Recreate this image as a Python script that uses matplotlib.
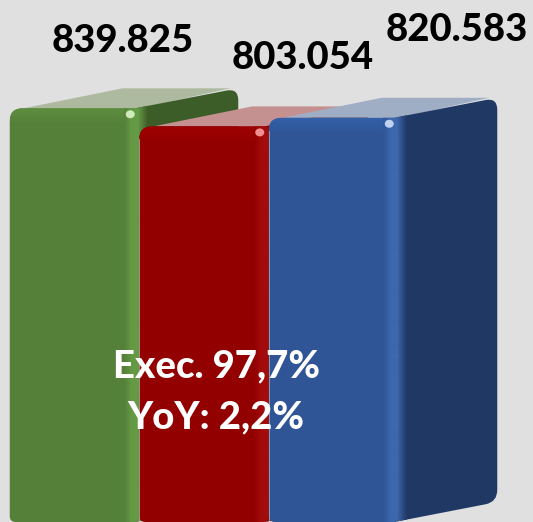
import numpy as np
import matplotlib
matplotlib.use("Agg")
import matplotlib.pyplot as plt
from matplotlib.patches import PathPatch, Ellipse
from matplotlib.path import Path
from matplotlib.colors import LinearSegmentedColormap

# Data
values = [839.825, 803.054, 820.583]
value_labels = ["839.825", "803.054", "820.583"]
note_lines = ["Exec. 97,7%", "YoY: 2,2%"]

# Colours per bar
front_colors = ["#55803a", "#930000", "#2f5597"]
glow_colors = ["#5f8f40", "#a00000", "#3360a8"]
bevel_colors = ["#659a45", "#a30c0c", "#3d68ad"]
side_colors = ["#3c5c28", "#6e0000", "#203864"]
top_colors = ["#adbaa0", "#c59090", "#a0aec5"]
spec_colors = ["#e4fad0", "#ffa8a8", "#d8e6ff"]

# Label offsets from bar centre / top, in pixels
label_dx = [48, 99, 123]
label_dy = [67, 68, 88]

PX_W, PX_H = 533, 522
BAR_PX = 129.5
X0_PX = 74.5
UNITS_PER_PX = 2.03
DEPTH_X = 99
DEPTH_Y = 20
FONT_SIZE = 27.5

fig = plt.figure(figsize=(PX_W / 100, PX_H / 100), dpi=100, facecolor="#e0e0e0")
ax = fig.add_axes([0, 0, 1, 1])
ax.set_facecolor("#e0e0e0")
xlim = (-X0_PX / BAR_PX, (PX_W - X0_PX) / BAR_PX)
ylim = (0, PX_H * UNITS_PER_PX)

sx = 1 / BAR_PX
sy = UNITS_PER_PX


def rounded(points, radii):
    # closed polygon with rounded corners, points in data coords, radii in px
    verts, codes = [], []
    n = len(points)
    for i in range(n):
        p = np.array(points[i], dtype=float)
        prev = np.array(points[i - 1], dtype=float)
        nxt = np.array(points[(i + 1) % n], dtype=float)
        r = radii[i]
        a = (prev - p) / (sx, sy)
        b = (nxt - p) / (sx, sy)
        a = p + a / np.hypot(*a) * r * np.array([sx, sy])
        b = p + b / np.hypot(*b) * r * np.array([sx, sy])
        verts += [a, p, b]
        codes += [Path.LINETO if i else Path.MOVETO, Path.CURVE3, Path.CURVE3]
    verts.append(verts[0])
    codes.append(Path.CLOSEPOLY)
    return Path(verts, codes)


def shade(path, extent, colors, horizontal, z):
    # gradient clipped to a patch
    cmap = LinearSegmentedColormap.from_list("g", colors)
    grad = np.linspace(0, 1, 128)
    grad = grad.reshape(1, -1) if horizontal else grad.reshape(-1, 1)
    im = ax.imshow(grad, extent=extent, cmap=cmap, aspect="auto", origin="upper", zorder=z)
    patch = PathPatch(path, transform=ax.transData, fc="none", ec="none")
    ax.add_patch(patch)
    im.set_clip_path(patch)


for i, v in enumerate(values):
    z = 2 + i * 2
    l, r = i - 0.5, i + 0.5
    dx, dy = DEPTH_X * sx, DEPTH_Y * sy

    # top face
    top_path = Path([(l + 14 * sx, v), (l + 14 * sx + dx, v + dy), (r + dx - 8 * sx, v + dy), (r, v), (l + 14 * sx, v)],
                    [Path.MOVETO, Path.LINETO, Path.LINETO, Path.LINETO, Path.CLOSEPOLY])
    ax.add_patch(PathPatch(top_path, fc=top_colors[i], ec="none", zorder=z))

    # side face, with a soft blend next to the front edge
    side_pts = [(r - 4 * sx, v), (r + dx, v + dy), (r + dx, dy), (r - 4 * sx, 0)]
    side_path = rounded(side_pts, [1, 12, 12, 1])
    ax.add_patch(PathPatch(side_path, fc=side_colors[i], ec="none", zorder=z))
    shade(side_path, (r - 1 * sx, r + 9 * sx, 0, v + dy), [bevel_colors[i], side_colors[i]], True, z + 0.1)

    # front face
    front_path = rounded([(l, 0), (l, v), (r, v), (r, 0)], [6, 13, 3, 6])
    ax.add_patch(PathPatch(front_path, fc=front_colors[i], ec="none", zorder=z + 0.2))
    shade(front_path, (l, r, v - 16 * sy, v), [glow_colors[i], front_colors[i]], False, z + 0.25)
    shade(front_path, (r - 15 * sx, r + 1 * sx, 0, v), [front_colors[i], bevel_colors[i], bevel_colors[i]], True, z + 0.3)
    if i > 0:
        ax.plot([l, l], [0, v - 13 * sy], color="#b8b8b8", lw=0.5, zorder=z + 0.35)

    # specular spot on the corner
    ax.add_patch(Ellipse((r - 9 * sx, v - 6 * sy), 9 * sx, 8 * sy, fc=spec_colors[i], ec="none", alpha=0.85, zorder=z + 0.4))

    ax.text(i + label_dx[i] * sx, v + label_dy[i] * sy, value_labels[i], fontsize=FONT_SIZE, fontweight=900,
            family="Lato", color="black", ha="center", va="center", zorder=20)

# note over the bars, placed around the middle bar
ax.text(1.10, 156 * sy, note_lines[0], fontsize=FONT_SIZE, fontweight=900, family="Lato",
        color="white", ha="center", va="center", zorder=21)
ax.text(1.095, 105 * sy, note_lines[1], fontsize=FONT_SIZE, fontweight=900, family="Lato",
        color="white", ha="center", va="center", zorder=21)

ax.set_xlim(xlim)
ax.set_ylim(ylim)
ax.axis("off")

fig.savefig("out.png", dpi=100, facecolor=fig.get_facecolor())
